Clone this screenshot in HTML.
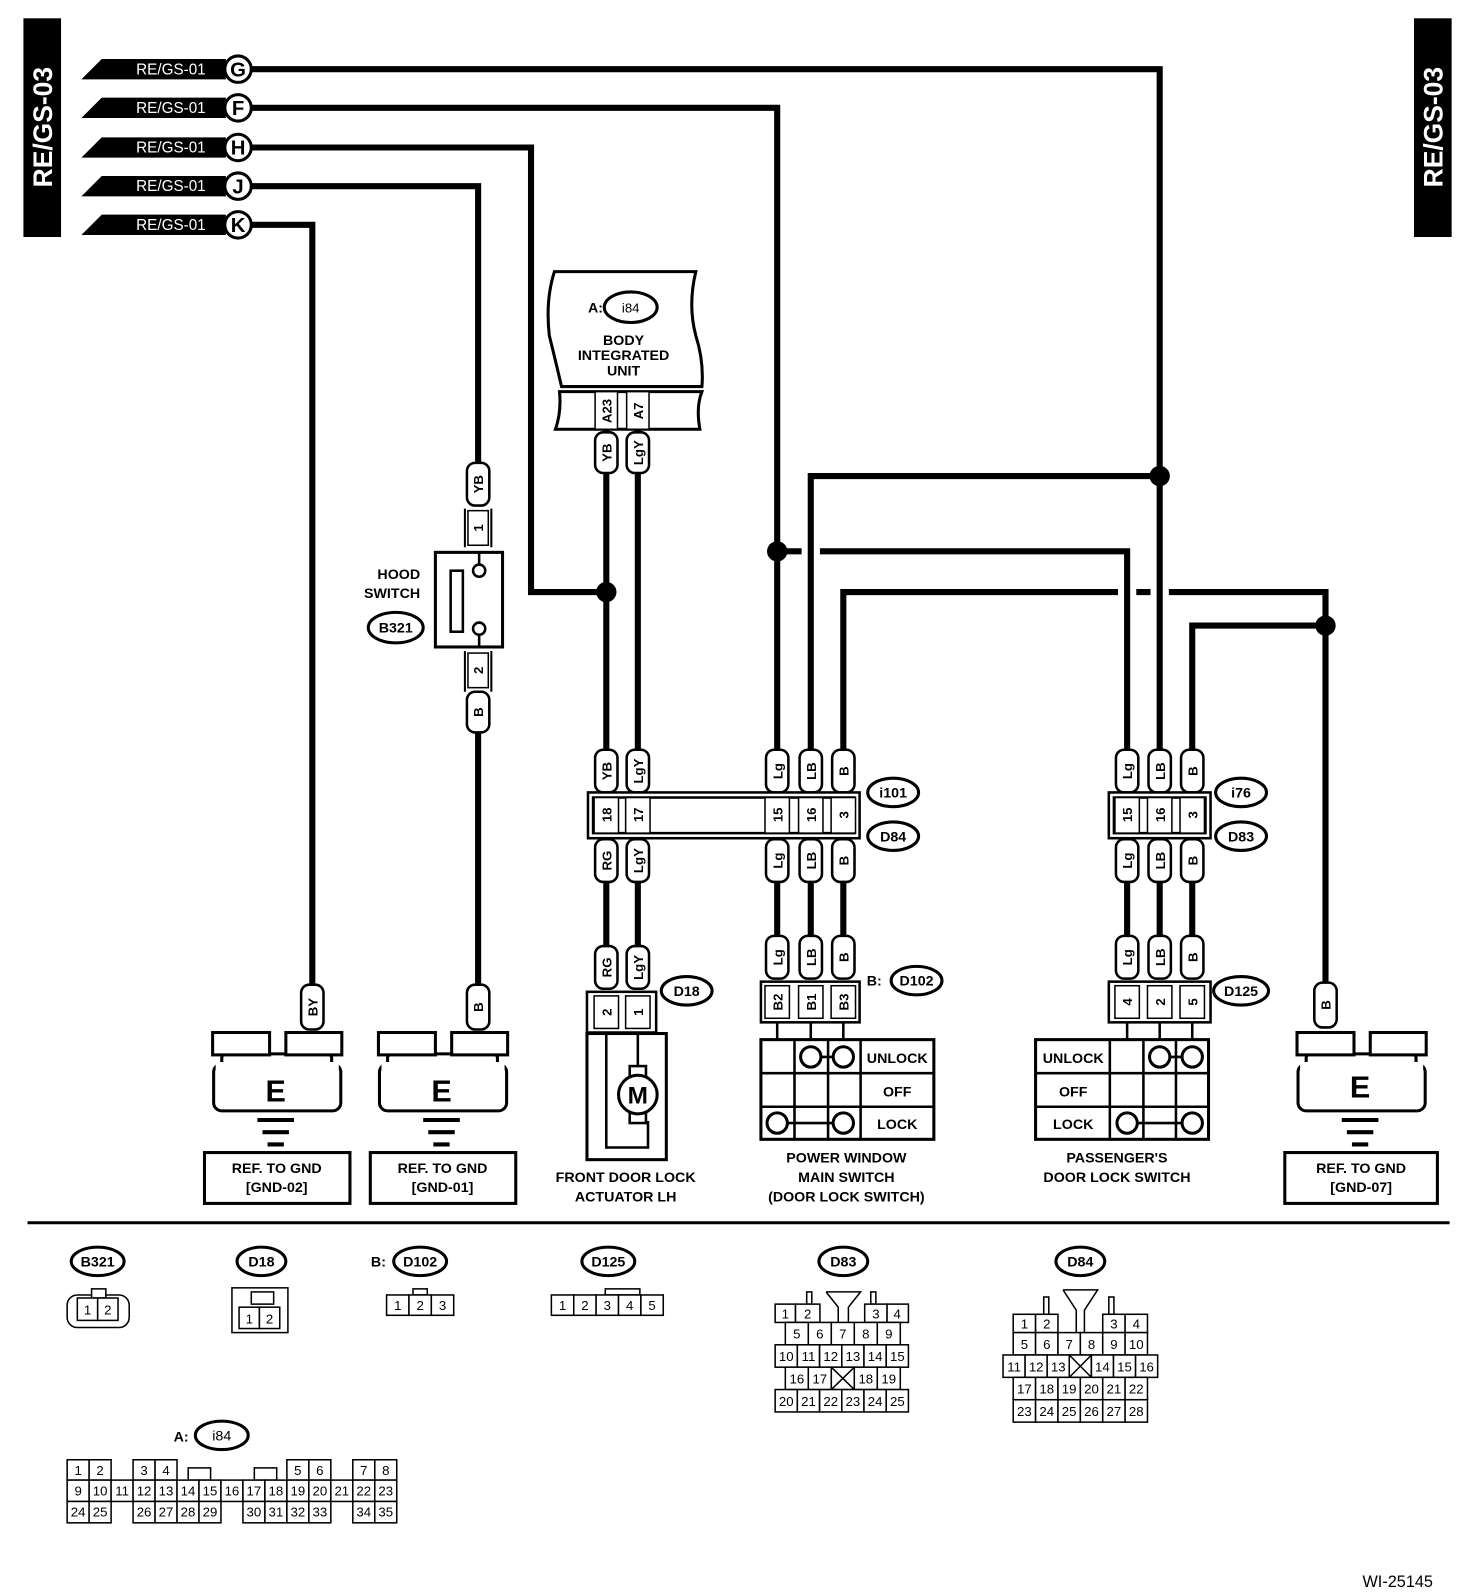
<!DOCTYPE html>
<html><head><meta charset="utf-8"><style>
html,body{margin:0;padding:0;background:#fff;}
svg{display:block;}
.w{stroke:#000;stroke-width:6;fill:none;}
.o{stroke:#000;stroke-width:2.5;fill:#fff;}
.o3{stroke:#000;stroke-width:3;fill:#fff;}
.c{stroke:#000;stroke-width:1.5;fill:#fff;}
.b{font-family:"Liberation Sans",sans-serif;font-weight:bold;font-size:14px;fill:#000;}
.n{font-family:"Liberation Sans",sans-serif;font-size:13px;fill:#000;}
.r{font-family:"Liberation Sans",sans-serif;font-weight:bold;font-size:13px;fill:#000;}
</style></head><body>
<svg width="1472" height="1592" viewBox="0 0 1447 1565" xmlns="http://www.w3.org/2000/svg">
<rect x="23" y="18" width="37" height="215" fill="#000"/>
<text transform="translate(51,125) rotate(-90)" text-anchor="middle" font-family="Liberation Sans" font-weight="bold" font-size="26" fill="#fff">RE/GS-03</text>
<rect x="1390" y="18" width="37" height="215" fill="#000"/>
<text transform="translate(1418,125) rotate(-90)" text-anchor="middle" font-family="Liberation Sans" font-weight="bold" font-size="26" fill="#fff">RE/GS-03</text>

<path class="w" d="M248 68 H1140 V740"/>
<path class="w" d="M248 106 H764 V740"/>
<path class="w" d="M248 145 H522 V582 H596"/>
<path class="w" d="M248 183 H470 V458"/>
<path class="w" d="M248 221 H307 V970"/>
<path class="w" d="M596 422 V740"/>
<path class="w" d="M627 422 V740"/>
<path class="w" d="M1140 468 H797 V740"/>
<path class="w" d="M764 542 H788 M806 542 H1108 V740"/>
<path class="w" d="M829 740 V582 H1099 M1117 582 H1131 M1149 582 H1303 V968"/>
<path class="w" d="M1172 740 V615 H1303"/>
<path class="w" d="M470 720 V970"/>
<path class="w" d="M596 866 V932 M627 866 V932 M764 866 V922 M797 866 V922 M829 866 V922 M1108 866 V922 M1140 866 V922 M1172 866 V922"/>
<circle cx="1140" cy="468" r="10"/><circle cx="764" cy="542" r="10"/><circle cx="596" cy="582" r="10"/><circle cx="1303" cy="615" r="10"/>

<g font-family="Liberation Sans" font-size="15" fill="#fff">
<polygon points="80,78 100,58 222,58 222,78" fill="#000"/><text x="168" y="73" text-anchor="middle">RE/GS-01</text>
<polygon points="80,116 100,96 222,96 222,116" fill="#000"/><text x="168" y="111" text-anchor="middle">RE/GS-01</text>
<polygon points="80,155 100,135 222,135 222,155" fill="#000"/><text x="168" y="150" text-anchor="middle">RE/GS-01</text>
<polygon points="80,193 100,173 222,173 222,193" fill="#000"/><text x="168" y="188" text-anchor="middle">RE/GS-01</text>
<polygon points="80,231 100,211 222,211 222,231" fill="#000"/><text x="168" y="226" text-anchor="middle">RE/GS-01</text>
</g>
<g font-family="Liberation Sans" font-weight="bold" font-size="20" text-anchor="middle">
<circle cx="234" cy="68" r="13" class="o3"/><text x="234" y="75">G</text>
<circle cx="234" cy="106" r="13" class="o3"/><text x="234" y="113">F</text>
<circle cx="234" cy="145" r="13" class="o3"/><text x="234" y="152">H</text>
<circle cx="234" cy="183" r="13" class="o3"/><text x="234" y="190">J</text>
<circle cx="234" cy="221" r="13" class="o3"/><text x="234" y="228">K</text>
</g>

<path class="o3" d="M545 267 H684 Q676 300 684 330 Q692 355 690 380 H552 Q545 350 540 330 Q536 295 545 267 Z"/>
<text x="578" y="307" class="b" font-size="15">A:</text>
<ellipse cx="620" cy="302" rx="26" ry="15" class="o3"/><text x="620" y="307" class="n" text-anchor="middle" font-size="14">i84</text>
<text x="613" y="339" class="b" text-anchor="middle">BODY</text>
<text x="613" y="354" class="b" text-anchor="middle">INTEGRATED</text>
<text x="613" y="369" class="b" text-anchor="middle">UNIT</text>
<path class="o3" d="M550 385 H690 Q684 400 688 422 H546 Q552 405 550 385 Z"/>
<rect x="585" y="385" width="22" height="37" class="c"/><rect x="616" y="385" width="22" height="37" class="c"/>
<text transform="translate(601,404) rotate(-90)" class="r" text-anchor="middle">A23</text>
<text transform="translate(632,404) rotate(-90)" class="r" text-anchor="middle">A7</text>

<g class="o">
<rect x="585" y="425" width="22" height="40" rx="8"/><rect x="616" y="425" width="22" height="40" rx="8"/>
<rect x="459" y="455" width="22" height="42" rx="8"/><rect x="459" y="680" width="22" height="40" rx="8"/>
<rect x="585" y="737" width="22" height="42" rx="8"/><rect x="616" y="737" width="22" height="42" rx="8"/>
<rect x="753" y="737" width="22" height="42" rx="8"/><rect x="786" y="737" width="22" height="42" rx="8"/><rect x="818" y="737" width="22" height="42" rx="8"/>
<rect x="1097" y="737" width="22" height="42" rx="8"/><rect x="1129" y="737" width="22" height="42" rx="8"/><rect x="1161" y="737" width="22" height="42" rx="8"/>
<rect x="585" y="825" width="22" height="42" rx="8"/><rect x="616" y="825" width="22" height="42" rx="8"/>
<rect x="753" y="825" width="22" height="42" rx="8"/><rect x="786" y="825" width="22" height="42" rx="8"/><rect x="818" y="825" width="22" height="42" rx="8"/>
<rect x="1097" y="825" width="22" height="42" rx="8"/><rect x="1129" y="825" width="22" height="42" rx="8"/><rect x="1161" y="825" width="22" height="42" rx="8"/>
<rect x="585" y="930" width="22" height="42" rx="8"/><rect x="616" y="930" width="22" height="42" rx="8"/>
<rect x="753" y="920" width="22" height="42" rx="8"/><rect x="786" y="920" width="22" height="42" rx="8"/><rect x="818" y="920" width="22" height="42" rx="8"/>
<rect x="1097" y="920" width="22" height="42" rx="8"/><rect x="1129" y="920" width="22" height="42" rx="8"/><rect x="1161" y="920" width="22" height="42" rx="8"/>
<rect x="296" y="968" width="22" height="44" rx="8"/><rect x="459" y="968" width="22" height="44" rx="8"/><rect x="1292" y="966" width="22" height="44" rx="8"/>
</g>
<g class="r" text-anchor="middle">
<text transform="translate(601,445) rotate(-90)">YB</text><text transform="translate(632,445) rotate(-90)">LgY</text>
<text transform="translate(475,476) rotate(-90)">YB</text><text transform="translate(475,700) rotate(-90)">B</text>
<text transform="translate(601,758) rotate(-90)">YB</text><text transform="translate(632,758) rotate(-90)">LgY</text>
<text transform="translate(769,758) rotate(-90)">Lg</text><text transform="translate(802,758) rotate(-90)">LB</text><text transform="translate(834,758) rotate(-90)">B</text>
<text transform="translate(1113,758) rotate(-90)">Lg</text><text transform="translate(1145,758) rotate(-90)">LB</text><text transform="translate(1177,758) rotate(-90)">B</text>
<text transform="translate(601,846) rotate(-90)">RG</text><text transform="translate(632,846) rotate(-90)">LgY</text>
<text transform="translate(769,846) rotate(-90)">Lg</text><text transform="translate(802,846) rotate(-90)">LB</text><text transform="translate(834,846) rotate(-90)">B</text>
<text transform="translate(1113,846) rotate(-90)">Lg</text><text transform="translate(1145,846) rotate(-90)">LB</text><text transform="translate(1177,846) rotate(-90)">B</text>
<text transform="translate(601,951) rotate(-90)">RG</text><text transform="translate(632,951) rotate(-90)">LgY</text>
<text transform="translate(769,941) rotate(-90)">Lg</text><text transform="translate(802,941) rotate(-90)">LB</text><text transform="translate(834,941) rotate(-90)">B</text>
<text transform="translate(1113,941) rotate(-90)">Lg</text><text transform="translate(1145,941) rotate(-90)">LB</text><text transform="translate(1177,941) rotate(-90)">B</text>
<text transform="translate(312,990) rotate(-90)">BY</text><text transform="translate(475,990) rotate(-90)">B</text><text transform="translate(1308,988) rotate(-90)">B</text>
</g>

<path d="M457 500 V538 M483 500 V538 M457 640 V680 M483 640 V680" stroke="#000" stroke-width="2"/>
<rect x="460" y="502" width="20" height="34" class="c" stroke-width="2.5"/>
<rect x="460" y="642" width="20" height="34" class="c" stroke-width="2.5"/>
<text transform="translate(475,519) rotate(-90)" class="r" text-anchor="middle">1</text>
<text transform="translate(475,659) rotate(-90)" class="r" text-anchor="middle">2</text>
<rect x="428" y="543" width="66" height="93" class="o3"/>
<rect x="443" y="561" width="12" height="60" class="o"/>
<path d="M471 543 V555 M471 624 V636" stroke="#000" stroke-width="2.5"/>
<circle cx="471" cy="561" r="6" class="o"/><circle cx="471" cy="618" r="6" class="o"/>
<text x="413" y="569" class="b" text-anchor="end">HOOD</text>
<text x="413" y="588" class="b" text-anchor="end">SWITCH</text>
<ellipse cx="389" cy="617" rx="27" ry="15" class="o3"/><text x="389" y="622" class="b" text-anchor="middle">B321</text>

<rect x="578" y="779" width="267" height="45" class="o"/>
<rect x="583" y="784" width="257" height="35" class="o"/>
<g class="c" stroke-width="2"><rect x="584" y="784" width="24" height="35"/><rect x="615" y="784" width="24" height="35"/><rect x="752" y="784" width="24" height="35"/><rect x="785" y="784" width="24" height="35"/><rect x="817" y="784" width="24" height="35"/></g>
<g class="r" text-anchor="middle"><text transform="translate(601,801) rotate(-90)">18</text><text transform="translate(632,801) rotate(-90)">17</text><text transform="translate(769,801) rotate(-90)">15</text><text transform="translate(802,801) rotate(-90)">16</text><text transform="translate(834,801) rotate(-90)">3</text></g>
<ellipse cx="878" cy="779" rx="25" ry="14" class="o3"/><text x="878" y="784" class="b" text-anchor="middle">i101</text>
<ellipse cx="878" cy="822" rx="25" ry="14" class="o3"/><text x="878" y="827" class="b" text-anchor="middle">D84</text>
<rect x="1090" y="779" width="100" height="45" class="o"/>
<rect x="1095" y="784" width="90" height="35" class="o"/>
<g class="c" stroke-width="2"><rect x="1096" y="784" width="24" height="35"/><rect x="1128" y="784" width="24" height="35"/><rect x="1160" y="784" width="24" height="35"/></g>
<g class="r" text-anchor="middle"><text transform="translate(1113,801) rotate(-90)">15</text><text transform="translate(1145,801) rotate(-90)">16</text><text transform="translate(1177,801) rotate(-90)">3</text></g>
<ellipse cx="1220" cy="779" rx="25" ry="14" class="o3"/><text x="1220" y="784" class="b" text-anchor="middle">i76</text>
<ellipse cx="1220" cy="822" rx="25" ry="14" class="o3"/><text x="1220" y="827" class="b" text-anchor="middle">D83</text>

<rect x="577" y="975" width="68" height="40" class="o"/>
<g class="c" stroke-width="2"><rect x="584" y="979" width="24" height="32"/><rect x="615" y="979" width="24" height="32"/></g>
<g class="r" text-anchor="middle"><text transform="translate(601,995) rotate(-90)">2</text><text transform="translate(632,995) rotate(-90)">1</text></g>
<ellipse cx="675" cy="974" rx="25" ry="14" class="o3"/><text x="675" y="979" class="b" text-anchor="middle">D18</text>
<rect x="577" y="1016" width="78" height="124" class="o3"/>
<path d="M596 1016 V1128 H637 V1102 M627 1016 V1050" stroke="#000" stroke-width="2.5" fill="none"/>
<rect x="619" y="1048" width="16" height="10" class="o"/><rect x="619" y="1094" width="16" height="10" class="o"/>
<circle cx="627" cy="1076" r="19" class="o3"/>
<text x="627" y="1085" text-anchor="middle" font-family="Liberation Sans" font-weight="bold" font-size="24">M</text>
<text x="615" y="1162" class="b" text-anchor="middle">FRONT DOOR LOCK</text>
<text x="615" y="1181" class="b" text-anchor="middle">ACTUATOR LH</text>

<rect x="748" y="965" width="97" height="40" class="o"/>
<g class="c" stroke-width="2"><rect x="752" y="969" width="24" height="32"/><rect x="785" y="969" width="24" height="32"/><rect x="817" y="969" width="24" height="32"/></g>
<g class="r" text-anchor="middle"><text transform="translate(769,985) rotate(-90)">B2</text><text transform="translate(802,985) rotate(-90)">B1</text><text transform="translate(834,985) rotate(-90)">B3</text></g>
<text x="852" y="969" class="b">B:</text>
<ellipse cx="901" cy="964" rx="25" ry="14" class="o3"/><text x="901" y="969" class="b" text-anchor="middle">D102</text>
<path d="M764 1005 V1022 M797 1005 V1022 M829 1005 V1022" stroke="#000" stroke-width="2.5"/>
<rect x="748" y="1022" width="170" height="98" class="o3"/>
<path d="M748 1055 H918 M748 1088 H918 M781 1022 V1120 M814 1022 V1120 M846 1022 V1120" stroke="#000" stroke-width="2.5"/>
<path d="M797 1039 H829 M764 1104 H829" stroke="#000" stroke-width="2.5"/>
<circle cx="797" cy="1039" r="10" class="o3"/><circle cx="829" cy="1039" r="10" class="o3"/>
<circle cx="764" cy="1104" r="10" class="o3"/><circle cx="829" cy="1104" r="10" class="o3"/>
<text x="882" y="1045" class="b" text-anchor="middle">UNLOCK</text><text x="882" y="1078" class="b" text-anchor="middle">OFF</text><text x="882" y="1110" class="b" text-anchor="middle">LOCK</text>
<text x="832" y="1143" class="b" text-anchor="middle">POWER WINDOW</text>
<text x="832" y="1162" class="b" text-anchor="middle">MAIN SWITCH</text>
<text x="832" y="1181" class="b" text-anchor="middle">(DOOR LOCK SWITCH)</text>

<rect x="1090" y="965" width="100" height="40" class="o"/>
<g class="c" stroke-width="2"><rect x="1096" y="969" width="24" height="32"/><rect x="1128" y="969" width="24" height="32"/><rect x="1160" y="969" width="24" height="32"/></g>
<g class="r" text-anchor="middle"><text transform="translate(1113,985) rotate(-90)">4</text><text transform="translate(1145,985) rotate(-90)">2</text><text transform="translate(1177,985) rotate(-90)">5</text></g>
<ellipse cx="1220" cy="974" rx="27" ry="14" class="o3"/><text x="1220" y="979" class="b" text-anchor="middle">D125</text>
<path d="M1108 1005 V1022 M1140 1005 V1022 M1172 1005 V1022" stroke="#000" stroke-width="2.5"/>
<rect x="1018" y="1022" width="170" height="98" class="o3"/>
<path d="M1018 1055 H1188 M1018 1088 H1188 M1091 1022 V1120 M1124 1022 V1120 M1156 1022 V1120" stroke="#000" stroke-width="2.5"/>
<path d="M1140 1039 H1172 M1108 1104 H1172" stroke="#000" stroke-width="2.5"/>
<circle cx="1140" cy="1039" r="10" class="o3"/><circle cx="1172" cy="1039" r="10" class="o3"/>
<circle cx="1108" cy="1104" r="10" class="o3"/><circle cx="1172" cy="1104" r="10" class="o3"/>
<text x="1055" y="1045" class="b" text-anchor="middle">UNLOCK</text><text x="1055" y="1078" class="b" text-anchor="middle">OFF</text><text x="1055" y="1110" class="b" text-anchor="middle">LOCK</text>
<text x="1098" y="1143" class="b" text-anchor="middle">PASSENGER'S</text>
<text x="1098" y="1162" class="b" text-anchor="middle">DOOR LOCK SWITCH</text>

<g stroke="#000" stroke-width="3" fill="#fff">
<rect x="218" y="1036" width="108" height="16" rx="4"/><rect x="210" y="1046" width="125" height="46" rx="8"/>
<rect x="209" y="1015" width="56" height="22"/><rect x="281" y="1015" width="55" height="22"/>
<rect x="381" y="1036" width="108" height="16" rx="4"/><rect x="373" y="1046" width="125" height="46" rx="8"/>
<rect x="372" y="1015" width="56" height="22"/><rect x="444" y="1015" width="55" height="22"/>
<rect x="1284" y="1036" width="108" height="16" rx="4"/><rect x="1276" y="1046" width="125" height="46" rx="8"/>
<rect x="1275" y="1015" width="56" height="22"/><rect x="1347" y="1015" width="55" height="22"/>
</g>
<g fill="#fff"><rect x="212" y="1044" width="121" height="10"/><rect x="375" y="1044" width="121" height="10"/><rect x="1278" y="1044" width="121" height="10"/></g>
<g font-family="Liberation Sans" font-weight="bold" font-size="30" text-anchor="middle">
<text x="271" y="1083">E</text><text x="434" y="1083">E</text><text x="1337" y="1079">E</text></g>
<path d="M253 1101 H289 M258 1113 H284 M263 1125 H279 M416 1101 H452 M421 1113 H447 M426 1125 H442 M1319 1101 H1355 M1324 1113 H1350 M1329 1125 H1345" stroke="#000" stroke-width="4"/>
<rect x="201" y="1133" width="143" height="50" class="o3"/><rect x="364" y="1133" width="143" height="50" class="o3"/><rect x="1263" y="1133" width="150" height="50" class="o3"/>
<g class="b" text-anchor="middle">
<text x="272" y="1153">REF. TO GND</text><text x="272" y="1172">[GND-02]</text>
<text x="435" y="1153">REF. TO GND</text><text x="435" y="1172">[GND-01]</text>
<text x="1338" y="1153">REF. TO GND</text><text x="1338" y="1172">[GND-07]</text>
</g>

<line x1="27" y1="1202" x2="1425" y2="1202" stroke="#000" stroke-width="3"/>

<g class="b" text-anchor="middle" font-size="13">
<ellipse cx="96" cy="1240" rx="26" ry="14" class="o3"/><text x="96" y="1245">B321</text>
<ellipse cx="257" cy="1240" rx="24" ry="14" class="o3"/><text x="257" y="1245">D18</text>
<text x="372" y="1245">B:</text>
<ellipse cx="413" cy="1240" rx="26" ry="14" class="o3"/><text x="413" y="1245">D102</text>
<ellipse cx="598" cy="1240" rx="26" ry="14" class="o3"/><text x="598" y="1245">D125</text>
<ellipse cx="829" cy="1240" rx="24" ry="14" class="o3"/><text x="829" y="1245">D83</text>
<ellipse cx="1062" cy="1240" rx="24" ry="14" class="o3"/><text x="1062" y="1245">D84</text>
<text x="178" y="1417">A:</text>
<ellipse cx="218" cy="1411" rx="26" ry="14" class="o3"/><text x="218" y="1416" font-weight="normal">i84</text>
</g>
<g class="c">
<rect x="66" y="1273" width="61" height="32" rx="10"/><rect x="90" y="1267" width="14" height="9"/>
<rect x="76" y="1276" width="20" height="22"/><rect x="96" y="1276" width="20" height="22"/>
<rect x="228" y="1266" width="55" height="44"/><rect x="247" y="1270" width="22" height="12"/>
<rect x="235" y="1285" width="20" height="21"/><rect x="255" y="1285" width="20" height="21"/>
<rect x="406" y="1267" width="14" height="6"/>
<rect x="380" y="1273" width="22" height="20"/><rect x="402" y="1273" width="22" height="20"/><rect x="424" y="1273" width="22" height="20"/>
<rect x="595" y="1267" width="34" height="6"/>
<rect x="542" y="1273" width="22" height="20"/><rect x="564" y="1273" width="22" height="20"/><rect x="586" y="1273" width="22" height="20"/><rect x="608" y="1273" width="22" height="20"/><rect x="630" y="1273" width="22" height="20"/>
</g>
<g class="n" text-anchor="middle">
<text x="86" y="1292">1</text><text x="106" y="1292">2</text>
<text x="245" y="1301">1</text><text x="265" y="1301">2</text>
<text x="391" y="1288">1</text><text x="413" y="1288">2</text><text x="435" y="1288">3</text>
<text x="553" y="1288">1</text><text x="575" y="1288">2</text><text x="597" y="1288">3</text><text x="619" y="1288">4</text><text x="641" y="1288">5</text>
</g>

<g class="c">
<rect x="793" y="1270" width="5" height="12"/><rect x="856" y="1270" width="5" height="12"/>
<path d="M812 1270 H846 L834 1285 V1300 M824 1300 V1285 L812 1270" fill="#fff"/>
<rect x="762" y="1282" width="20" height="18"/><rect x="782" y="1282" width="24" height="18"/><rect x="850" y="1282" width="22" height="18"/><rect x="872" y="1282" width="21" height="18"/>
<rect x="772" y="1300" width="22.6" height="22"/><rect x="794.6" y="1300" width="22.6" height="22"/><rect x="817.2" y="1300" width="22.6" height="22"/><rect x="839.8" y="1300" width="22.6" height="22"/><rect x="862.4" y="1300" width="22.6" height="22"/>
<rect x="762" y="1322" width="21.8" height="22"/><rect x="783.8" y="1322" width="21.8" height="22"/><rect x="805.7" y="1322" width="21.8" height="22"/><rect x="827.5" y="1322" width="21.8" height="22"/><rect x="849.3" y="1322" width="21.8" height="22"/><rect x="871.2" y="1322" width="21.8" height="22"/>
<rect x="772" y="1344" width="22.6" height="22"/><rect x="794.6" y="1344" width="22.6" height="22"/><rect x="817.2" y="1344" width="22.6" height="22"/><rect x="839.8" y="1344" width="22.6" height="22"/><rect x="862.4" y="1344" width="22.6" height="22"/>
<path d="M817.2 1344 L839.8 1366 M839.8 1344 L817.2 1366"/>
<rect x="762" y="1366" width="21.8" height="22"/><rect x="783.8" y="1366" width="21.8" height="22"/><rect x="805.7" y="1366" width="21.8" height="22"/><rect x="827.5" y="1366" width="21.8" height="22"/><rect x="849.3" y="1366" width="21.8" height="22"/><rect x="871.2" y="1366" width="21.8" height="22"/>
</g>
<g class="n" text-anchor="middle">
<text x="772" y="1296">1</text><text x="794" y="1296">2</text><text x="861" y="1296">3</text><text x="882" y="1296">4</text>
<text x="783.3" y="1316">5</text><text x="805.9" y="1316">6</text><text x="828.5" y="1316">7</text><text x="851.1" y="1316">8</text><text x="873.7" y="1316">9</text>
<text x="772.9" y="1338">10</text><text x="794.8" y="1338">11</text><text x="816.6" y="1338">12</text><text x="838.4" y="1338">13</text><text x="860.3" y="1338">14</text><text x="882.1" y="1338">15</text>
<text x="783.3" y="1360">16</text><text x="805.9" y="1360">17</text><text x="851.1" y="1360">18</text><text x="873.7" y="1360">19</text>
<text x="772.9" y="1382">20</text><text x="794.8" y="1382">21</text><text x="816.6" y="1382">22</text><text x="838.4" y="1382">23</text><text x="860.3" y="1382">24</text><text x="882.1" y="1382">25</text>
</g>

<g class="c">
<rect x="1026" y="1275" width="5" height="17"/><rect x="1090" y="1275" width="5" height="17"/>
<path d="M1045 1268 H1079 L1066 1288 V1310 M1058 1310 V1288 L1045 1268" fill="#fff"/>
<rect x="996" y="1292" width="22" height="18"/><rect x="1018" y="1292" width="22" height="18"/><rect x="1084" y="1292" width="22" height="18"/><rect x="1106" y="1292" width="22" height="18"/>
<rect x="996" y="1310" width="22" height="22"/><rect x="1018" y="1310" width="22" height="22"/><rect x="1040" y="1310" width="22" height="22"/><rect x="1062" y="1310" width="22" height="22"/><rect x="1084" y="1310" width="22" height="22"/><rect x="1106" y="1310" width="22" height="22"/>
<rect x="986" y="1332" width="21.7" height="22"/><rect x="1007.7" y="1332" width="21.7" height="22"/><rect x="1029.4" y="1332" width="21.7" height="22"/><rect x="1051.1" y="1332" width="21.7" height="22"/><rect x="1072.9" y="1332" width="21.7" height="22"/><rect x="1094.6" y="1332" width="21.7" height="22"/><rect x="1116.3" y="1332" width="21.7" height="22"/>
<path d="M1051.1 1332 L1072.9 1354 M1072.9 1332 L1051.1 1354"/>
<rect x="996" y="1354" width="22" height="22"/><rect x="1018" y="1354" width="22" height="22"/><rect x="1040" y="1354" width="22" height="22"/><rect x="1062" y="1354" width="22" height="22"/><rect x="1084" y="1354" width="22" height="22"/><rect x="1106" y="1354" width="22" height="22"/>
<rect x="996" y="1376" width="22" height="22"/><rect x="1018" y="1376" width="22" height="22"/><rect x="1040" y="1376" width="22" height="22"/><rect x="1062" y="1376" width="22" height="22"/><rect x="1084" y="1376" width="22" height="22"/><rect x="1106" y="1376" width="22" height="22"/>
</g>
<g class="n" text-anchor="middle">
<text x="1007" y="1306">1</text><text x="1029" y="1306">2</text><text x="1095" y="1306">3</text><text x="1117" y="1306">4</text>
<text x="1007" y="1326">5</text><text x="1029" y="1326">6</text><text x="1051" y="1326">7</text><text x="1073" y="1326">8</text><text x="1095" y="1326">9</text><text x="1117" y="1326">10</text>
<text x="996.9" y="1348">11</text><text x="1018.6" y="1348">12</text><text x="1040.3" y="1348">13</text><text x="1083.7" y="1348">14</text><text x="1105.4" y="1348">15</text><text x="1127.1" y="1348">16</text>
<text x="1007" y="1370">17</text><text x="1029" y="1370">18</text><text x="1051" y="1370">19</text><text x="1073" y="1370">20</text><text x="1095" y="1370">21</text><text x="1117" y="1370">22</text>
<text x="1007" y="1392">23</text><text x="1029" y="1392">24</text><text x="1051" y="1392">25</text><text x="1073" y="1392">26</text><text x="1095" y="1392">27</text><text x="1117" y="1392">28</text>
</g>

<g class="c">
<rect x="66" y="1435" width="21.6" height="20"/><rect x="87.6" y="1435" width="21.6" height="20"/>
<rect x="130.8" y="1435" width="21.6" height="20"/><rect x="152.4" y="1435" width="21.6" height="20"/>
<rect x="185" y="1443" width="22" height="12"/><rect x="250" y="1443" width="22" height="12"/>
<rect x="282" y="1435" width="21.6" height="20"/><rect x="303.6" y="1435" width="21.6" height="20"/>
<rect x="346.8" y="1435" width="21.6" height="20"/><rect x="368.4" y="1435" width="21.6" height="20"/>
<rect x="66" y="1455" width="21.6" height="21"/><rect x="87.6" y="1455" width="21.6" height="21"/><rect x="109.2" y="1455" width="21.6" height="21"/><rect x="130.8" y="1455" width="21.6" height="21"/><rect x="152.4" y="1455" width="21.6" height="21"/><rect x="174" y="1455" width="21.6" height="21"/><rect x="195.6" y="1455" width="21.6" height="21"/><rect x="217.2" y="1455" width="21.6" height="21"/><rect x="238.8" y="1455" width="21.6" height="21"/><rect x="260.4" y="1455" width="21.6" height="21"/><rect x="282" y="1455" width="21.6" height="21"/><rect x="303.6" y="1455" width="21.6" height="21"/><rect x="325.2" y="1455" width="21.6" height="21"/><rect x="346.8" y="1455" width="21.6" height="21"/><rect x="368.4" y="1455" width="21.6" height="21"/>
<rect x="66" y="1476" width="21.6" height="21"/><rect x="87.6" y="1476" width="21.6" height="21"/>
<rect x="130.8" y="1476" width="21.6" height="21"/><rect x="152.4" y="1476" width="21.6" height="21"/><rect x="174" y="1476" width="21.6" height="21"/><rect x="195.6" y="1476" width="21.6" height="21"/>
<rect x="238.8" y="1476" width="21.6" height="21"/><rect x="260.4" y="1476" width="21.6" height="21"/><rect x="282" y="1476" width="21.6" height="21"/><rect x="303.6" y="1476" width="21.6" height="21"/>
<rect x="346.8" y="1476" width="21.6" height="21"/><rect x="368.4" y="1476" width="21.6" height="21"/>
</g>
<g class="n" text-anchor="middle">
<text x="76.8" y="1450">1</text><text x="98.4" y="1450">2</text><text x="141.6" y="1450">3</text><text x="163.2" y="1450">4</text><text x="292.8" y="1450">5</text><text x="314.4" y="1450">6</text><text x="357.6" y="1450">7</text><text x="379.2" y="1450">8</text>
<text x="76.8" y="1470">9</text><text x="98.4" y="1470">10</text><text x="120" y="1470">11</text><text x="141.6" y="1470">12</text><text x="163.2" y="1470">13</text><text x="184.8" y="1470">14</text><text x="206.4" y="1470">15</text><text x="228" y="1470">16</text><text x="249.6" y="1470">17</text><text x="271.2" y="1470">18</text><text x="292.8" y="1470">19</text><text x="314.4" y="1470">20</text><text x="336" y="1470">21</text><text x="357.6" y="1470">22</text><text x="379.2" y="1470">23</text>
<text x="76.8" y="1491">24</text><text x="98.4" y="1491">25</text><text x="141.6" y="1491">26</text><text x="163.2" y="1491">27</text><text x="184.8" y="1491">28</text><text x="206.4" y="1491">29</text><text x="249.6" y="1491">30</text><text x="271.2" y="1491">31</text><text x="292.8" y="1491">32</text><text x="314.4" y="1491">33</text><text x="357.6" y="1491">34</text><text x="379.2" y="1491">35</text>
</g>

<text x="1374" y="1560" text-anchor="middle" font-family="Liberation Sans" font-size="16">WI-25145</text>
</svg>
</body></html>
